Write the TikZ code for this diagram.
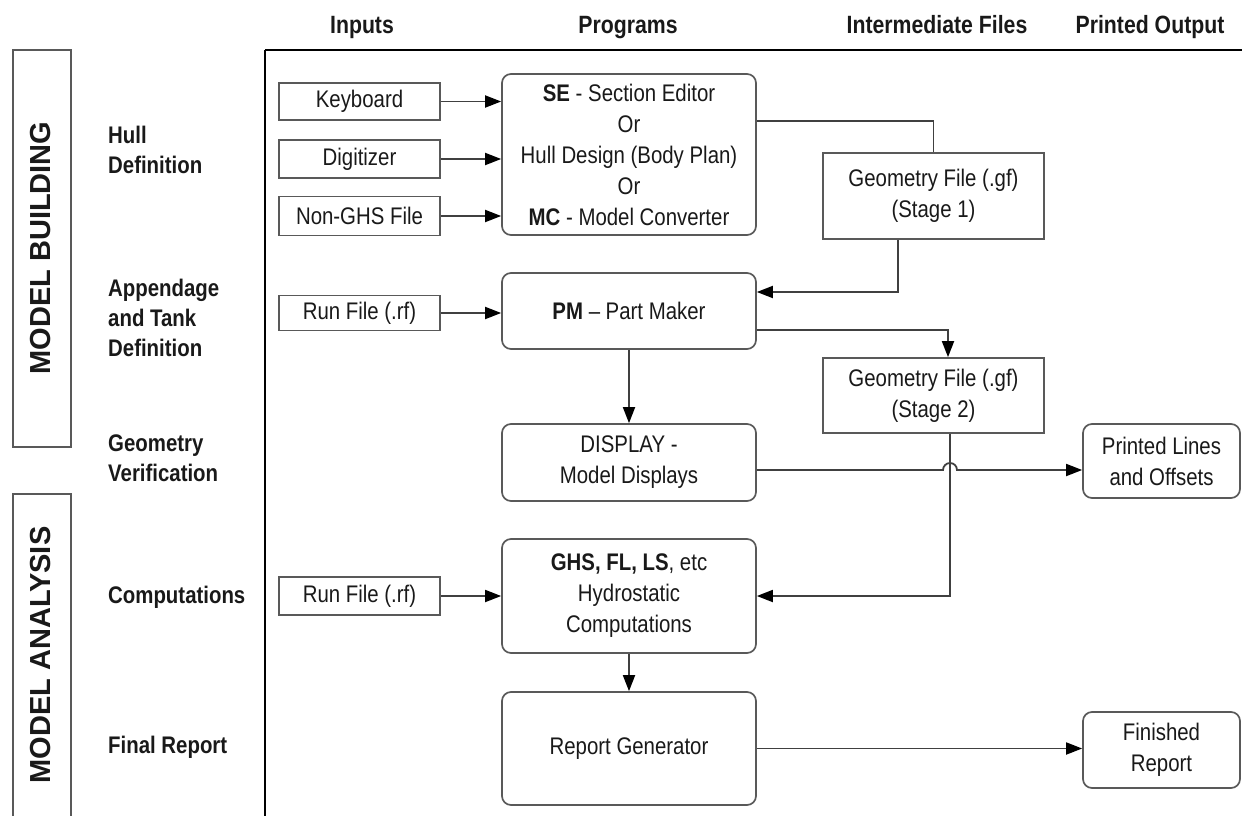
\documentclass[tikz,border=0pt]{standalone}
\usepackage{fontspec}
\setmainfont{Liberation Sans}[FakeStretch=0.85]
\newfontfamily\sidefont{Liberation Sans}
\usetikzlibrary{positioning,arrows.meta,calc}

\begin{document}
\begin{tikzpicture}[
  x=1pt, y=-1pt,
  every node/.style={inner sep=0pt, text=black!90},
  inbox/.style={rectangle, draw=black!65, line width=1.7pt, minimum width=161pt, align=center, font=\fontsize{24}{31}\selectfont},
  progbox/.style={rectangle, rounded corners=9pt, draw=black!65, line width=1.7pt, minimum width=254pt, align=center, font=\fontsize{24}{31}\selectfont},
  filebox/.style={rectangle, draw=black!65, line width=1.7pt, minimum width=221pt, align=center, font=\fontsize{24}{31}\selectfont},
  outbox/.style={rectangle, rounded corners=9pt, draw=black!65, line width=1.7pt, minimum width=157pt, align=center, font=\fontsize{24}{31}\selectfont},
  colhead/.style={anchor=base, font=\fontsize{25}{30}\selectfont\bfseries},
  rowlabel/.style={anchor=west, align=left, font=\fontsize{24}{30}\selectfont\bfseries},
  sidebox/.style={draw=black!65, line width=1.7pt},
  sidelabel/.style={rotate=90, font=\sidefont\fontsize{29}{30}\selectfont\bfseries},
  link/.style={draw=black!75, line width=1.8pt},
  arrow/.style={link, -{Triangle[length=16pt,width=12pt,color=black]}},
]
\useasboundingbox (0,0) rectangle (1242,816);

% === Column headings and frame ===
\node[colhead] (hin)  at (362,34)  {Inputs};
\node[colhead] (hpro) at (628,34)  {Programs};
\node[colhead] (hint) at (937,34)  {Intermediate Files};
\node[colhead] (hout) at (1150,34) {Printed Output};
\draw[line width=2.4pt] (265,50) -- (1242,50);
\draw[line width=2.4pt] (265,50) -- (265,816);

% === Phase bars ===
\draw[sidebox] (13,50) rectangle (71,447);
\draw[sidebox] (13,494) rectangle (71,830);
\node[sidelabel] (build) at (41,248) {MODEL BUILDING};
\node[sidelabel] (anal)  at (41,655) {MODEL ANALYSIS};

% === Row labels ===
\node[rowlabel] (rhull) at (108,150) {Hull\\Definition};
\node[rowlabel] (rapp)  at (108,318) {Appendage\\and Tank\\Definition};
\node[rowlabel] (rgeo)  at (108,458) {Geometry\\Verification};
\node[rowlabel] (rcomp) at (108,597) {Computations};
\node[rowlabel] (rfin)  at (108,747) {Final Report};

% === Inputs ===
\node[inbox, minimum height=37pt] (kbd) at (359.5,101.5) {Keyboard};
\node[inbox, minimum height=38pt] (dig) at (359.5,159)   {Digitizer};
\node[inbox, minimum height=39pt] (ngf) at (359.5,216)   {Non-GHS File};
\node[inbox, minimum height=35pt] (rf1) at (359.5,313)   {Run File (.rf)};
\node[inbox, minimum height=38pt] (rf2) at (359.5,596)   {Run File (.rf)};

% === Programs ===
\node[progbox, minimum height=161pt] (se)   at (629,154.5) {\textbf{SE} - Section Editor\\Or\\Hull Design (Body Plan)\\Or\\\textbf{MC} - Model Converter};
\node[progbox, minimum height=76pt]  (pm)   at (629,311)   {\textbf{PM} -- Part Maker};
\node[progbox, minimum height=77pt]  (disp) at (629,462.5) {DISPLAY -\\Model Displays};
\node[progbox, minimum height=114pt] (ghs)  at (629,596)   {\textbf{GHS, FL, LS}, etc\\Hydrostatic\\Computations};
\node[progbox, minimum height=113pt] (rep)  at (629,748.5) {Report Generator};

% === Intermediate files ===
\node[filebox, minimum height=86pt] (geo1) at (933.5,196)   {Geometry File (.gf)\\(Stage 1)};
\node[filebox, minimum height=75pt] (geo2) at (933.5,395.5) {Geometry File (.gf)\\(Stage 2)};

% === Printed output ===
\node[outbox, minimum height=74pt] (lines)  at (1161.5,461) {Printed Lines\\and Offsets};
\node[outbox, minimum height=76pt] (finrep) at (1161.5,750) {Finished\\Report};

% === Connectors ===
\draw[arrow] (kbd.east) -- (kbd.east -| se.west);
\draw[arrow] (dig.east) -- (dig.east -| se.west);
\draw[arrow] (ngf.east) -- (ngf.east -| se.west);
\draw[link] ([yshift=33.5pt]se.east) -| (geo1.north);
\draw[arrow] ([xshift=-35.5pt]geo1.south) |- ([yshift=19pt]pm.east);
\draw[arrow] (rf1.east) -- (rf1.east -| pm.west);
\draw[arrow] ([yshift=-19pt]pm.east) -| ([xshift=14.5pt]geo2.north);
\draw[arrow] (pm) -- (disp);
\coordinate (hop) at ([xshift=9.5pt,yshift=-7.5pt]disp.east -| geo2.south);
\draw[arrow] ([yshift=-7.5pt]disp.east) -- (hop) arc (180:0:7pt) -- ([yshift=-7.5pt]disp.east -| lines.west);
\draw[arrow] ([xshift=16.5pt]geo2.south) |- (ghs.east);
\draw[arrow] (rf2.east) -- (rf2.east -| ghs.west);
\draw[arrow] (ghs) -- (rep);
\draw[arrow] (rep.east) -- (rep.east -| finrep.west);

\end{tikzpicture}
\end{document}
